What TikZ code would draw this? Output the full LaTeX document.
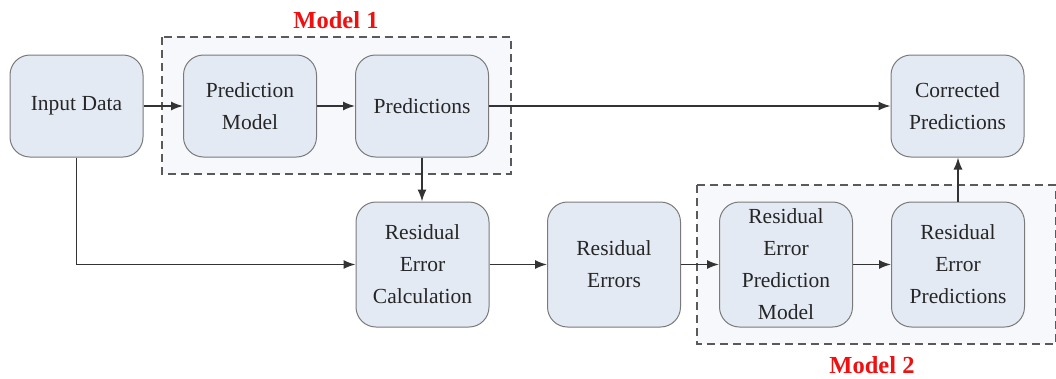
\documentclass[tikz,border=0pt]{standalone}
\usepackage{fontspec}
\setmainfont{Liberation Serif}
\newfontfamily\boxfont{Liberation Serif}
\usetikzlibrary{arrows.meta}
\definecolor{boxfill}{HTML}{E4EAF4}
\definecolor{boxline}{HTML}{7A7A7A}
\definecolor{groupfill}{HTML}{F6F8FC}
\definecolor{groupline}{HTML}{5A5A5A}
\definecolor{arrowc}{HTML}{333333}
\definecolor{labelred}{HTML}{F01010}
\begin{document}
\begin{tikzpicture}[x=1pt,y=-1pt,
  stepbox/.style={draw=boxline,line width=1pt,fill=boxfill,rounded corners=20pt,
    minimum width=133pt,inner sep=0pt,align=center,text=black!85,
    font=\boxfont\fontsize{21.5}{32}\selectfont},
  toprow/.style={minimum height=102pt},
  botrow/.style={minimum height=125pt},
  group/.style={draw=groupline,line width=1.1pt,fill=groupfill,dash pattern=on 8pt off 5pt},
  grouplabel/.style={text=labelred,font=\boxfont\fontsize{24.5}{28}\selectfont\bfseries},
  conn/.style={draw=arrowc,line width=1.5pt,-{Latex[length=12pt,width=9pt]}}]
\useasboundingbox (0,0) rectangle (1056,378);
% group boxes
\draw[group] (162,37) rectangle (511,174);
\draw[group] (697,185) rectangle (1055.5,344);
\node[grouplabel] (m1) at (336,20) {Model 1};
\node[grouplabel] (m2) at (872,365) {Model 2};
% nodes
\node[stepbox,toprow] (input) at (76.5,106) {Input Data};
\node[stepbox,toprow] (pmodel) at (250,106) {Prediction\\Model};
\node[stepbox,toprow] (preds) at (422,106) {Predictions};
\node[stepbox,toprow] (corr) at (957.5,106) {Corrected\\Predictions};
\node[stepbox,botrow] (calc) at (422.5,264.5) {Residual\\Error\\Calculation};
\node[stepbox,botrow] (errs) at (614,264.5) {Residual\\Errors};
\node[stepbox,botrow] (repm) at (786,264.5) {Residual\\Error\\Prediction\\Model};
\node[stepbox,botrow] (rep) at (958,264.5) {Residual\\Error\\Predictions};
% connectors
\draw[conn] (input) -- (pmodel);
\draw[conn] (pmodel) -- (preds);
\draw[conn] (preds) -- (corr);
\draw[conn] (preds.south) -- (preds.south |- calc.north);
\draw[conn] (input.south) |- (calc.west);
\draw[conn] (calc) -- (errs);
\draw[conn] (errs) -- (repm);
\draw[conn] (repm) -- (rep);
\draw[conn] (rep.north) -- (rep.north |- corr.south);
\end{tikzpicture}
\end{document}
